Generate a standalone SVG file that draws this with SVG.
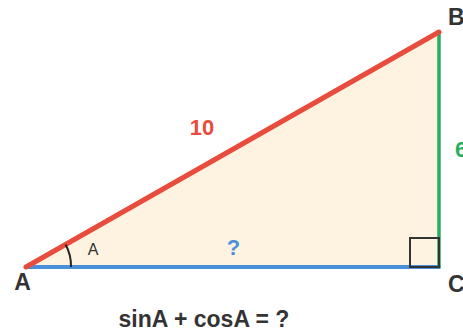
<svg xmlns="http://www.w3.org/2000/svg" width="463" height="334" viewBox="0 0 463 334">
<style>
text{font-family:"Liberation Sans",Arial,sans-serif;}
.v{font-weight:bold;font-size:23px;fill:#333;}
.lbl{font-weight:bold;font-size:22px;}
</style>
<rect width="463" height="334" fill="#fff"/>
<g id="triangle">
<polygon points="26,267 439,32 439,267" fill="#fef3e0"/>
</g>
<g id="connectors" stroke-linecap="round">
<line x1="26" y1="267" x2="439" y2="267" stroke="#4a90d9" stroke-width="4"/>
<line x1="439" y1="267" x2="439" y2="32" stroke="#27ae60" stroke-width="3.5"/>
<line x1="26" y1="267" x2="439" y2="32" stroke="#e74c3c" stroke-width="5"/>
</g>
<g id="right-angle">
<rect x="410" y="238" width="29" height="29" fill="none" stroke="#333" stroke-width="2"/>
</g>
<g id="angle-A">
<path d="M 65.6 244.5 A 45 45 0 0 1 71 267" fill="none" stroke="#222" stroke-width="2"/>
<text x="93" y="255" font-size="16" fill="#333" text-anchor="middle">A</text>
</g>
<g id="node-A"><text class="v" x="22.5" y="290" text-anchor="middle">A</text></g>
<g id="node-B"><text class="v" x="448" y="25">B</text></g>
<g id="node-C"><text class="v" x="448" y="292">C</text></g>
<g id="labels">
<text class="lbl" x="202" y="135" text-anchor="middle" fill="#e74c3c">10</text>
<text class="lbl" x="455" y="157" fill="#27ae60">6</text>
<text class="lbl" x="233.5" y="255" text-anchor="middle" fill="#4a90d9">?</text>
</g>
<g id="question"><text class="v" x="204" y="327" text-anchor="middle">sinA + cosA = ?</text></g>
</svg>
